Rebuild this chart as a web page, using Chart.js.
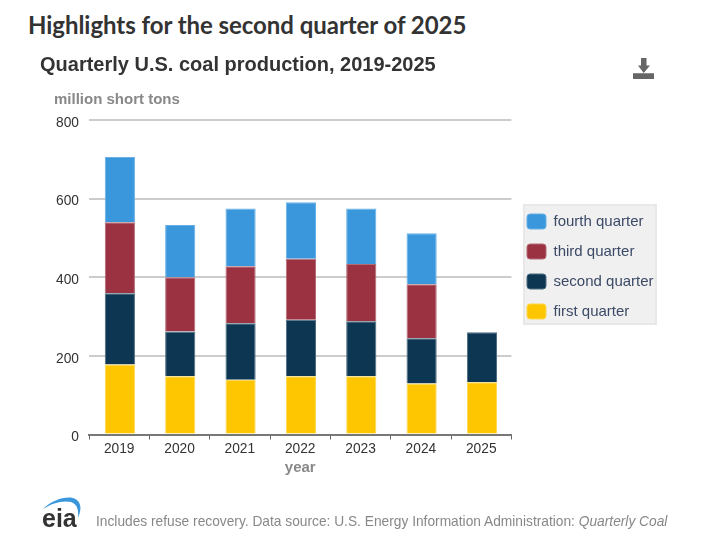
<!DOCTYPE html>
<html>
<head>
<meta charset="utf-8">
<script src="https://cdn.jsdelivr.net/npm/chart.js@4"></script>
<style>
html,body{margin:0;padding:0;background:#fff;overflow:hidden}
#wrap{position:relative;width:713px;height:546px}
canvas{position:absolute;left:0;top:0}
.t{position:absolute;white-space:nowrap;font-family:"Liberation Sans",Arial,sans-serif}
#h{left:28px;top:10px;font:700 24px Lato,sans-serif;color:#333;letter-spacing:-.05px}
#u{left:54px;top:90px;font-size:15px;font-weight:700;color:#888}
#f{left:96px;top:514px;font-size:13.75px;color:#888}
svg{position:absolute}
</style>
</head>
<body>
<div id="wrap">
<div class="t" id="h">Highlights for the second quarter of 2025</div>
<canvas id="c" width="713" height="546"></canvas>
<div class="t" id="u">million short tons</div>
<div class="t" id="f">Includes refuse recovery. Data source: U.S. Energy Information Administration: <i>Quarterly Coal</i></div>
<svg style="left:633px;top:58px" width="22" height="21" viewBox="0 0 22 21"><path fill="#666" d="M8 0h5.5v7.5H17L10.7 15 5 7.5h3zM0 15.3h21V21H0z"/></svg>
<svg style="left:40px;top:494px" width="46" height="36" viewBox="0 0 46 36">
<path fill="#3a97dc" d="M3 15C11 7 24 2 33 4c7 2 10 9 5 20 1-8-1-14-7-16C23 6 12 9 3 15z"/>
<text x="2" y="32.7" font-family="Liberation Sans" font-weight="700" font-size="25" fill="#333">eia</text>
</svg>
</div>
<script>
const years = ['2019','2020','2021','2022','2023','2024','2025'];
const firstQuarter  = [178,148,139,148,148,130,133];
const secondQuarter = [181,114,144,144,140,115,127];
const thirdQuarter  = [181,138,145,155,146,137,null];
const fourthQuarter = [166,133,147,144,141,130,null];
const yTicks = [0,200,400,600,800];

const legendBackdrop = {
  id:'legendBackdrop',
  afterLayout(chart){
    const l = chart.legend;
    l.left = 512; l.right = 680; l.top = 199; l.bottom = 347;
  },
  beforeDraw(chart){
    const c = chart.ctx;
    c.save();
    c.fillStyle = '#f0f0f0';
    c.fillRect(523,204,134,121);
    c.strokeStyle = '#e8e8e8';
    c.lineWidth = 2;
    c.strokeRect(524,205,132,119);
    c.restore();
  },
  beforeDatasetsDraw(chart){
    chart.ctx.save();
    chart.ctx.translate(0.7,0);
  },
  afterDatasetsDraw(chart){
    chart.ctx.restore();
  }
};
new Chart(document.getElementById('c'),{
  type:'bar',
  plugins:[legendBackdrop],
  data:{labels:years,datasets:[
    {label:'first quarter',data:firstQuarter,backgroundColor:'#fdc600',borderColor:'#fdd84d',borderWidth:1},
    {label:'second quarter',data:secondQuarter,backgroundColor:'#0c3651',borderColor:'#4d6c80',borderWidth:1},
    {label:'third quarter',data:thirdQuarter,backgroundColor:'#9b3242',borderColor:'#b36a75',borderWidth:1},
    {label:'fourth quarter',data:fourthQuarter,backgroundColor:'#3a97dc',borderColor:'#66b0e6',borderWidth:1}
  ]},
  options:{
    responsive:false,animation:false,
    layout:{padding:{top:0,left:40,right:50,bottom:69.5}},
    datasets:{bar:{barPercentage:1,categoryPercentage:.5}},
    plugins:{
      tooltip:{enabled:false},
      title:{display:true,text:'Quarterly U.S. coal production, 2019-2025',align:'start',
        color:'#333',font:{family:'Liberation Sans',size:20,weight:'700'},padding:{top:53,bottom:43}},
      legend:{position:'right',align:'start',reverse:true,
        labels:{boxWidth:19,boxHeight:15,padding:15,useBorderRadius:true,borderRadius:3,
          color:'#3c4a66',font:{family:'Liberation Sans',size:15}}}
    },
    scales:{
      x:{stacked:true,
        title:{display:true,text:'year',color:'#888',font:{family:'Liberation Sans',size:15,weight:'700'},padding:{top:0.5,bottom:0}},
        ticks:{color:'#333',font:{family:'Liberation Sans',size:13.75},padding:1,maxRotation:0},
        grid:{drawOnChartArea:false,drawTicks:true,tickLength:5,color:'#666',offset:true},
        border:{color:'#777',width:2}},
      y:{stacked:true,min:0,max:800,
        afterBuildTicks(s){s.ticks=yTicks.map(v=>({value:v}));},
        afterFit(s){s.width=49;},
        ticks:{color:'#333',font:{family:'Liberation Sans',size:13.75},padding:10,labelOffset:3},
        grid:{color:'#ccc',lineWidth:2,drawTicks:false},
        border:{display:false}}
    }
  }
});
</script>
</body>
</html>
